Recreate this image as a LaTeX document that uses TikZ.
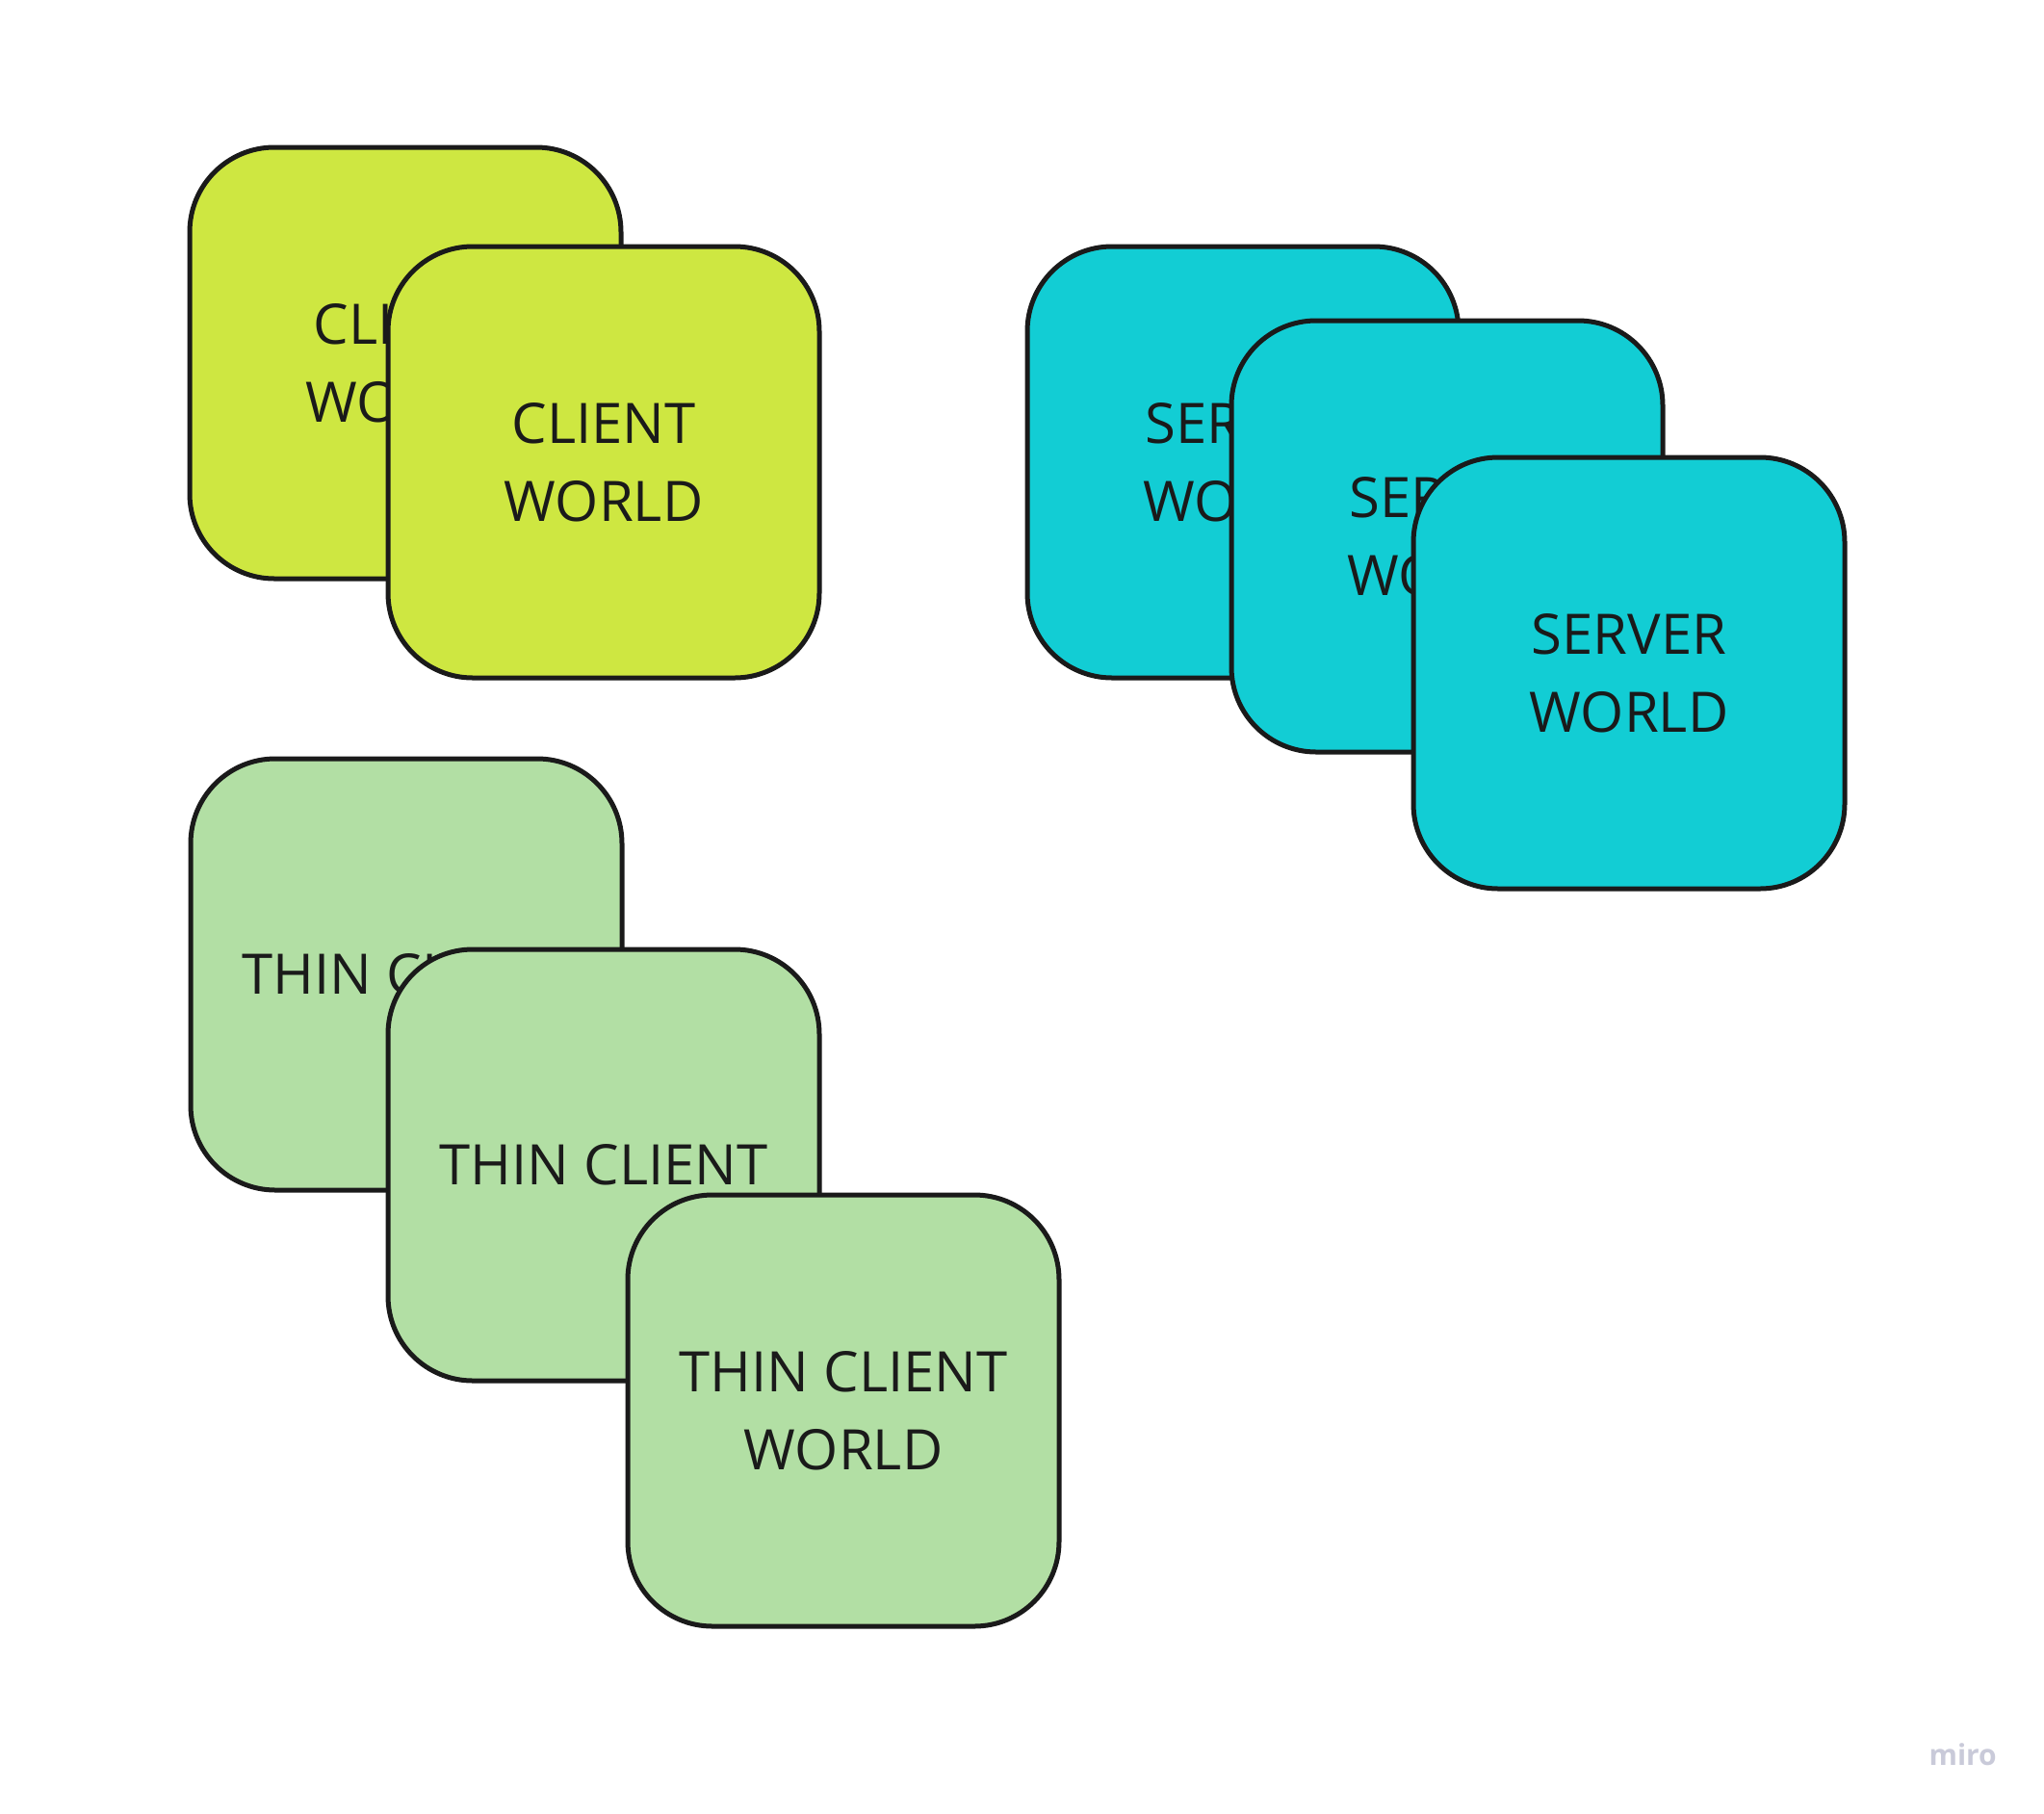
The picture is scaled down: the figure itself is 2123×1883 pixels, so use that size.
\documentclass[tikz,border=0pt]{standalone}
\usepackage{fontspec}
\setmainfont{Open Sans}
\definecolor{lime}{HTML}{CEE741}
\definecolor{cyanbox}{HTML}{12CDD4}
\definecolor{mint}{HTML}{B2DFA4}
\definecolor{edge}{HTML}{1A1A1A}
\definecolor{txt}{HTML}{1A1A1A}
\definecolor{logo}{HTML}{C9CAD9}
\begin{document}
\begin{tikzpicture}[x=1pt,y=-1pt,
  card/.style={draw=edge, line width=5pt, rounded corners=88pt, minimum width=448pt, minimum height=448pt,
    anchor=north west, inner sep=0pt, outer sep=0pt, align=center, text=txt, font=\fontsize{58}{81}\selectfont},
  clientcard/.style={card, fill=lime},
  servercard/.style={card, fill=cyanbox},
  thincard/.style={card, fill=mint}]
\useasboundingbox (0,0) rectangle (2123,1883);
\fill[white] (0,0) rectangle (2123,1883);
\node[clientcard] (c1) at (197,153) {CLIENT\\WORLD};
\node[clientcard] (c2) at (403,256) {CLIENT\\WORLD};
\node[servercard] (s1) at (1067,256) {SERVER\\WORLD};
\node[servercard] (s2) at (1279,333) {SERVER\\WORLD};
\node[servercard] (s3) at (1468,475) {SERVER\\WORLD};
\node[thincard] (t1) at (198,788) {THIN CLIENT};
\node[thincard] (t2) at (403,986) {THIN CLIENT};
\node[thincard] (t3) at (652,1241) {THIN CLIENT\\WORLD};
\node[text=logo, font=\fontsize{30}{36}\selectfont\bfseries, anchor=base east, inner sep=0pt] (logo) at (2074,1833) {miro};
\end{tikzpicture}
\end{document}
